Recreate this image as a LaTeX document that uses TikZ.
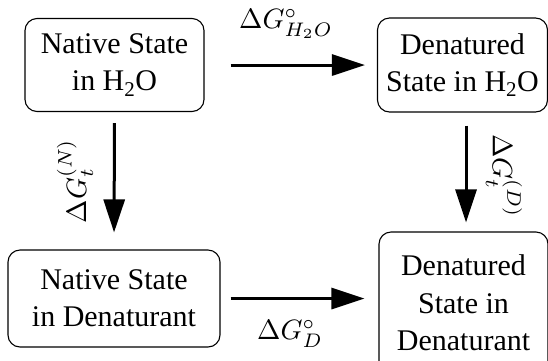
\documentclass[tikz,border=0pt]{standalone}
\usepackage[no-math]{fontspec}
\setmainfont{Liberation Serif}
\usetikzlibrary{arrows.meta}
\begin{document}
\begin{tikzpicture}[x=1pt,y=-1pt,
  statebox/.style={draw,line width=1.1pt,rounded corners=12pt,align=center,inner sep=0pt,
    font=\fontsize{30}{37}\selectfont},
  flow/.style={line width=3pt,-{Triangle[length=33pt,width=21pt]}},
  lbl/.style={font=\fontsize{10}{12}\selectfont,inner sep=0pt,scale=2.8,transform shape}]
\useasboundingbox (0,0) rectangle (548,360);
\node[statebox,minimum width=179pt,minimum height=93pt] (b1) at (114.5,65) {Native State\\in H\textsubscript{2}O};
\node[statebox,minimum width=170pt,minimum height=94pt] (b2) at (462.5,65) {Denatured\\State in H\textsubscript{2}O};
\node[statebox,minimum width=212pt,minimum height=97pt] (b3) at (114,298.5) {Native State\\in Denaturant};
\node[statebox,minimum width=169pt,minimum height=142pt,font=\fontsize{30}{37.5}\selectfont] (b4) at (463.5,303) {Denatured\\State in\\Denaturant};
\draw[flow,shorten <=26pt,shorten >=12pt] (b1.east) -- (b2.west);
\draw[flow,shorten <=10pt,shorten >=14pt] (b3.east) -- (b3.east -| b4.west);
\draw[flow,shorten <=11pt,shorten >=17pt] (b1.south) -- (b3.north);
\draw[flow,shorten <=13pt,shorten >=9pt] ([xshift=3.5pt]b2.south) -- ([xshift=3.5pt]b2.south |- b4.north);
\node[lbl] (l1) at (286,24) {$\Delta G^\circ_{H_2O}$};
\node[lbl,rotate=90] (l2) at (75,181) {$\Delta G_t^{(N)}$};
\node[lbl,rotate=-90] (l3) at (504,176) {$\Delta G_t^{(D)}$};
\node[lbl] (l4) at (290,334) {$\Delta G^\circ_D$};
\end{tikzpicture}
\end{document}
